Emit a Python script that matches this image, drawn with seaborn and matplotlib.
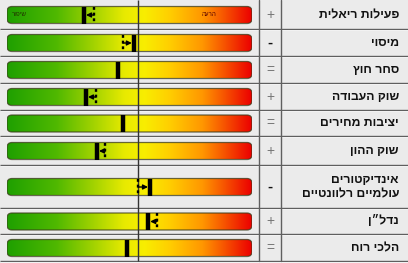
import numpy as np
import pandas as pd
import seaborn as sns
import matplotlib
matplotlib.use("Agg")
import matplotlib.pyplot as plt
from matplotlib.patches import FancyBboxPatch
from matplotlib.colors import LinearSegmentedColormap

# ---------------- data ----------------
categories = ["פעילות ריאלית", "מיסוי", "סחר חוץ", "שוק העבודה", "יציבות מחירים",
              "שוק ההון", "אינדיקטורים\nעולמיים רלוונטיים", "נדל״ן", "הלכי רוח"]
signs = ["+", "-", "=", "+", "=", "+", "-", "+", "="]
current = [31.4, 51.8, 45.3, 32.2, 47.3, 36.7, 58.4, 57.6, 49.0]
previous = [35.5, 47.3, None, 36.3, None, 40.0, 53.5, 61.2, None]
neutral = 53.5
scale_left = "שיפור"
scale_right = "הרעה"

df = pd.DataFrame({"cat": categories, "sign": signs, "cur": current, "prev": previous})

# ---------------- style ----------------
sns.set_theme(style="white")
plt.rcParams["font.family"] = ["Liberation Sans", "DejaVu Sans"]

W, H = 408, 263
row_edges = [0, 29, 56, 83, 110, 136, 165, 208, 234, 261]
bar_x0, bar_w = 7, 245

stops = [0.0, 0.2, 0.36, 0.48, 0.56, 0.66, 0.8, 1.0]
stop_colors = sns.color_palette(["#1fa000", "#4fb800", "#a6d400", "#e8ea00",
                                 "#f8ee00", "#ffd000", "#ff9600", "#ec0000"])
cmap = LinearSegmentedColormap.from_list("score", list(zip(stops, stop_colors)))

def rtl(s):
    return "\n".join(line[::-1] for line in s.split("\n"))

fig = plt.figure(figsize=(W / 100, H / 100), dpi=100)
fig.patch.set_facecolor("#ebebeb")

ax = fig.add_axes([0, 0, 1, 1])
ax.set_xlim(0, W)
ax.set_ylim(H, 0)
ax.axis("off")

axb = fig.add_axes([bar_x0 / W, 0, bar_w / W, 1])
axb.set_facecolor("none")
axb.axis("off")

grad = np.linspace(0, 1, 256)[None, :]
px_per_unit = bar_w / 100.0

# grid
for y in row_edges[1:]:
    ax.plot([0, W], [y, y], color="#5f5f5f", lw=1.0, solid_capstyle="butt")
    ax.plot([0, W], [y + 1, y + 1], color="#fafafa", lw=0.6, solid_capstyle="butt")
for x in (259, 281):
    ax.plot([x, x], [0, row_edges[-1]], color="#5f5f5f", lw=1.0)

for i, r in df.iterrows():
    yc = (row_edges[i] + row_edges[i + 1]) / 2 + 0.5
    y0, y1 = yc - 8.5, yc + 8.5
    patch = FancyBboxPatch((0, y0), 100, y1 - y0,
                           boxstyle="round,pad=0,rounding_size=%f" % (5 / px_per_unit),
                           mutation_aspect=px_per_unit,
                           facecolor="none", edgecolor="#3a3a1a", lw=0.9, alpha=0.75,
                           transform=axb.transData, zorder=3)
    axb.add_patch(patch)
    im = axb.imshow(grad, extent=(0, 100, y1, y0), aspect="auto", cmap=cmap,
                    interpolation="bilinear", zorder=2)
    im.set_clip_path(patch)

    # current value
    axb.vlines(r["cur"], y0, y1, color="black", lw=3.2, zorder=5)
    if pd.notna(r["prev"]):
        axb.vlines(r["prev"], y0, y1, color="black", lw=1.7,
                   linestyles=(0, (1.2, 1.2)), zorder=5)
        axb.annotate("", xy=(r["cur"], yc), xytext=(r["prev"], yc),
                     arrowprops=dict(arrowstyle="-|>", color="black", lw=1.0,
                                     mutation_scale=7, shrinkA=0, shrinkB=1.5),
                     zorder=6)

    ax.text(399, yc, rtl(r["cat"]), ha="right", va="center", fontsize=8.8,
            fontweight="bold", color="#111111", multialignment="right",
            linespacing=1.2)
    bold = r["sign"] == "-"
    ax.text(270, yc, r["sign"], ha="center", va="center",
            fontsize=11 if bold else 10,
            fontweight="bold" if bold else "normal",
            color="#111111" if bold else "#777777")

    if i == 0:
        axb.text(2.0, yc, rtl(scale_left), ha="left", va="center", fontsize=4.5,
                 color="#223300", zorder=7)
        axb.text(85.5, yc, rtl(scale_right), ha="right", va="center", fontsize=4.5,
                 color="#550000", zorder=7)

axb.vlines(neutral, 0, row_edges[-1], color="#333333", lw=1.0, zorder=4)
axb.set_xlim(0, 100)
axb.set_ylim(H, 0)

fig.savefig("out.png", dpi=100, facecolor=fig.get_facecolor())
